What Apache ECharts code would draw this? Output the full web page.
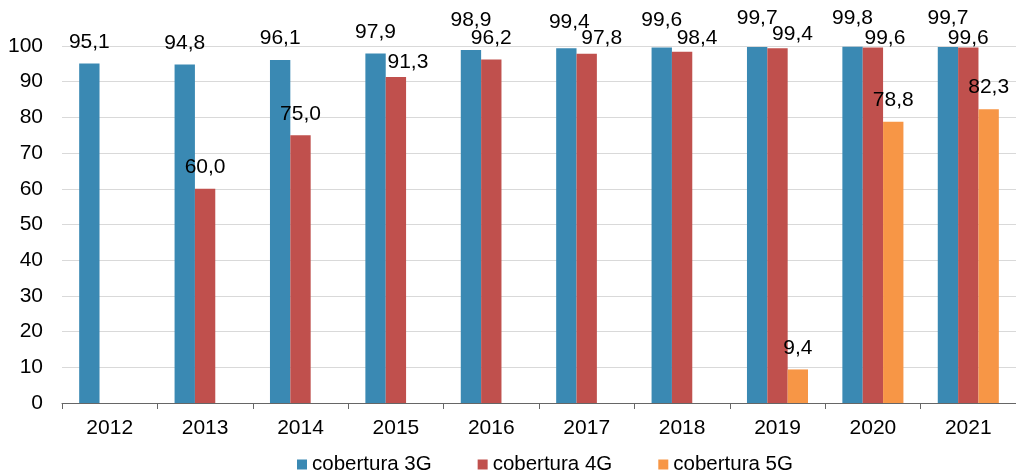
<!DOCTYPE html>
<html>
<head>
<meta charset="utf-8">
<script src="https://cdn.jsdelivr.net/npm/echarts@6/dist/echarts.min.js"></script>
<style>
  html, body { margin: 0; padding: 0; background: #fff; }
  #chart { width: 1016px; height: 476px; }
</style>
</head>
<body>
<div id="chart"></div>
<script>
// 数据
const years = ['2012', '2013', '2014', '2015', '2016', '2017', '2018', '2019', '2020', '2021'];
const cobertura3G = [95.1, 94.8, 96.1, 97.9, 98.9, 99.4, 99.6, 99.7, 99.8, 99.7];
const cobertura4G = [null, 60.0, 75.0, 91.3, 96.2, 97.8, 98.4, 99.4, 99.6, 99.6];
const cobertura5G = [null, null, null, null, null, null, null, 9.4, 78.8, 82.3];
const yMin = 0, yMax = 100, yStep = 10;

// 标签微调（避免重叠），按年份索引
const nudge3G = { 4: [0, -8], 5: [3, -4], 6: [0, -6], 7: [0, -7], 8: [0, -7], 9: [0, -7] };
const nudge4G = { 3: [12, 7], 5: [15, 6], 6: [15, 8], 7: [15, 8], 8: [12, 12], 9: [0, 12] };
const nudge5G = {};

const font = '"Liberation Sans", Arial, sans-serif';

const toItems = (values, nudge) => values.map((v, i) => {
  if (v == null) return '-';
  return { value: v, label: { offset: nudge[i] || [0, 0] } };
});

const makeSeries = (name, values, nudge, color) => ({
  name: name,
  type: 'bar',
  data: toItems(values, nudge),
  barGap: 0,
  barCategoryGap: '36%',
  itemStyle: { color: color },
  label: {
    show: true,
    position: 'top',
    distance: 11,
    color: '#000',
    fontFamily: font,
    fontSize: 21,
    formatter: p => p.value.toFixed(1).replace('.', ',')
  },
  emphasis: { disabled: true },
  animation: false
});

const chart = echarts.init(document.getElementById('chart'));
chart.setOption({
  backgroundColor: '#fff',
  textStyle: { fontFamily: font },
  grid: { left: 62, top: 46, width: 957, height: 357 },
  legend: {
    left: 297,
    top: 454,
    padding: 0,
    itemWidth: 10,
    itemHeight: 10,
    itemGap: 46,
    icon: 'rect',
    textStyle: { fontFamily: font, fontSize: 20.5, color: '#000' },
    data: ['cobertura 3G', 'cobertura 4G', 'cobertura 5G']
  },
  xAxis: {
    type: 'category',
    data: years,
    axisLine: { lineStyle: { color: '#666', width: 1 } },
    axisTick: { show: true, length: 6, lineStyle: { color: '#666' } },
    axisLabel: { color: '#000', fontFamily: font, fontSize: 21, margin: 15 }
  },
  yAxis: {
    type: 'value',
    min: yMin,
    max: yMax,
    interval: yStep,
    axisLine: { show: false },
    axisTick: { show: false },
    axisLabel: { color: '#000', fontFamily: font, fontSize: 21, margin: 19 },
    splitLine: { lineStyle: { color: '#d9d9d9', width: 1 } }
  },
  series: [
    makeSeries('cobertura 3G', cobertura3G, nudge3G, '#3a89b3'),
    makeSeries('cobertura 4G', cobertura4G, nudge4G, '#c0504d'),
    makeSeries('cobertura 5G', cobertura5G, nudge5G, '#f79646')
  ]
});
</script>
</body>
</html>
